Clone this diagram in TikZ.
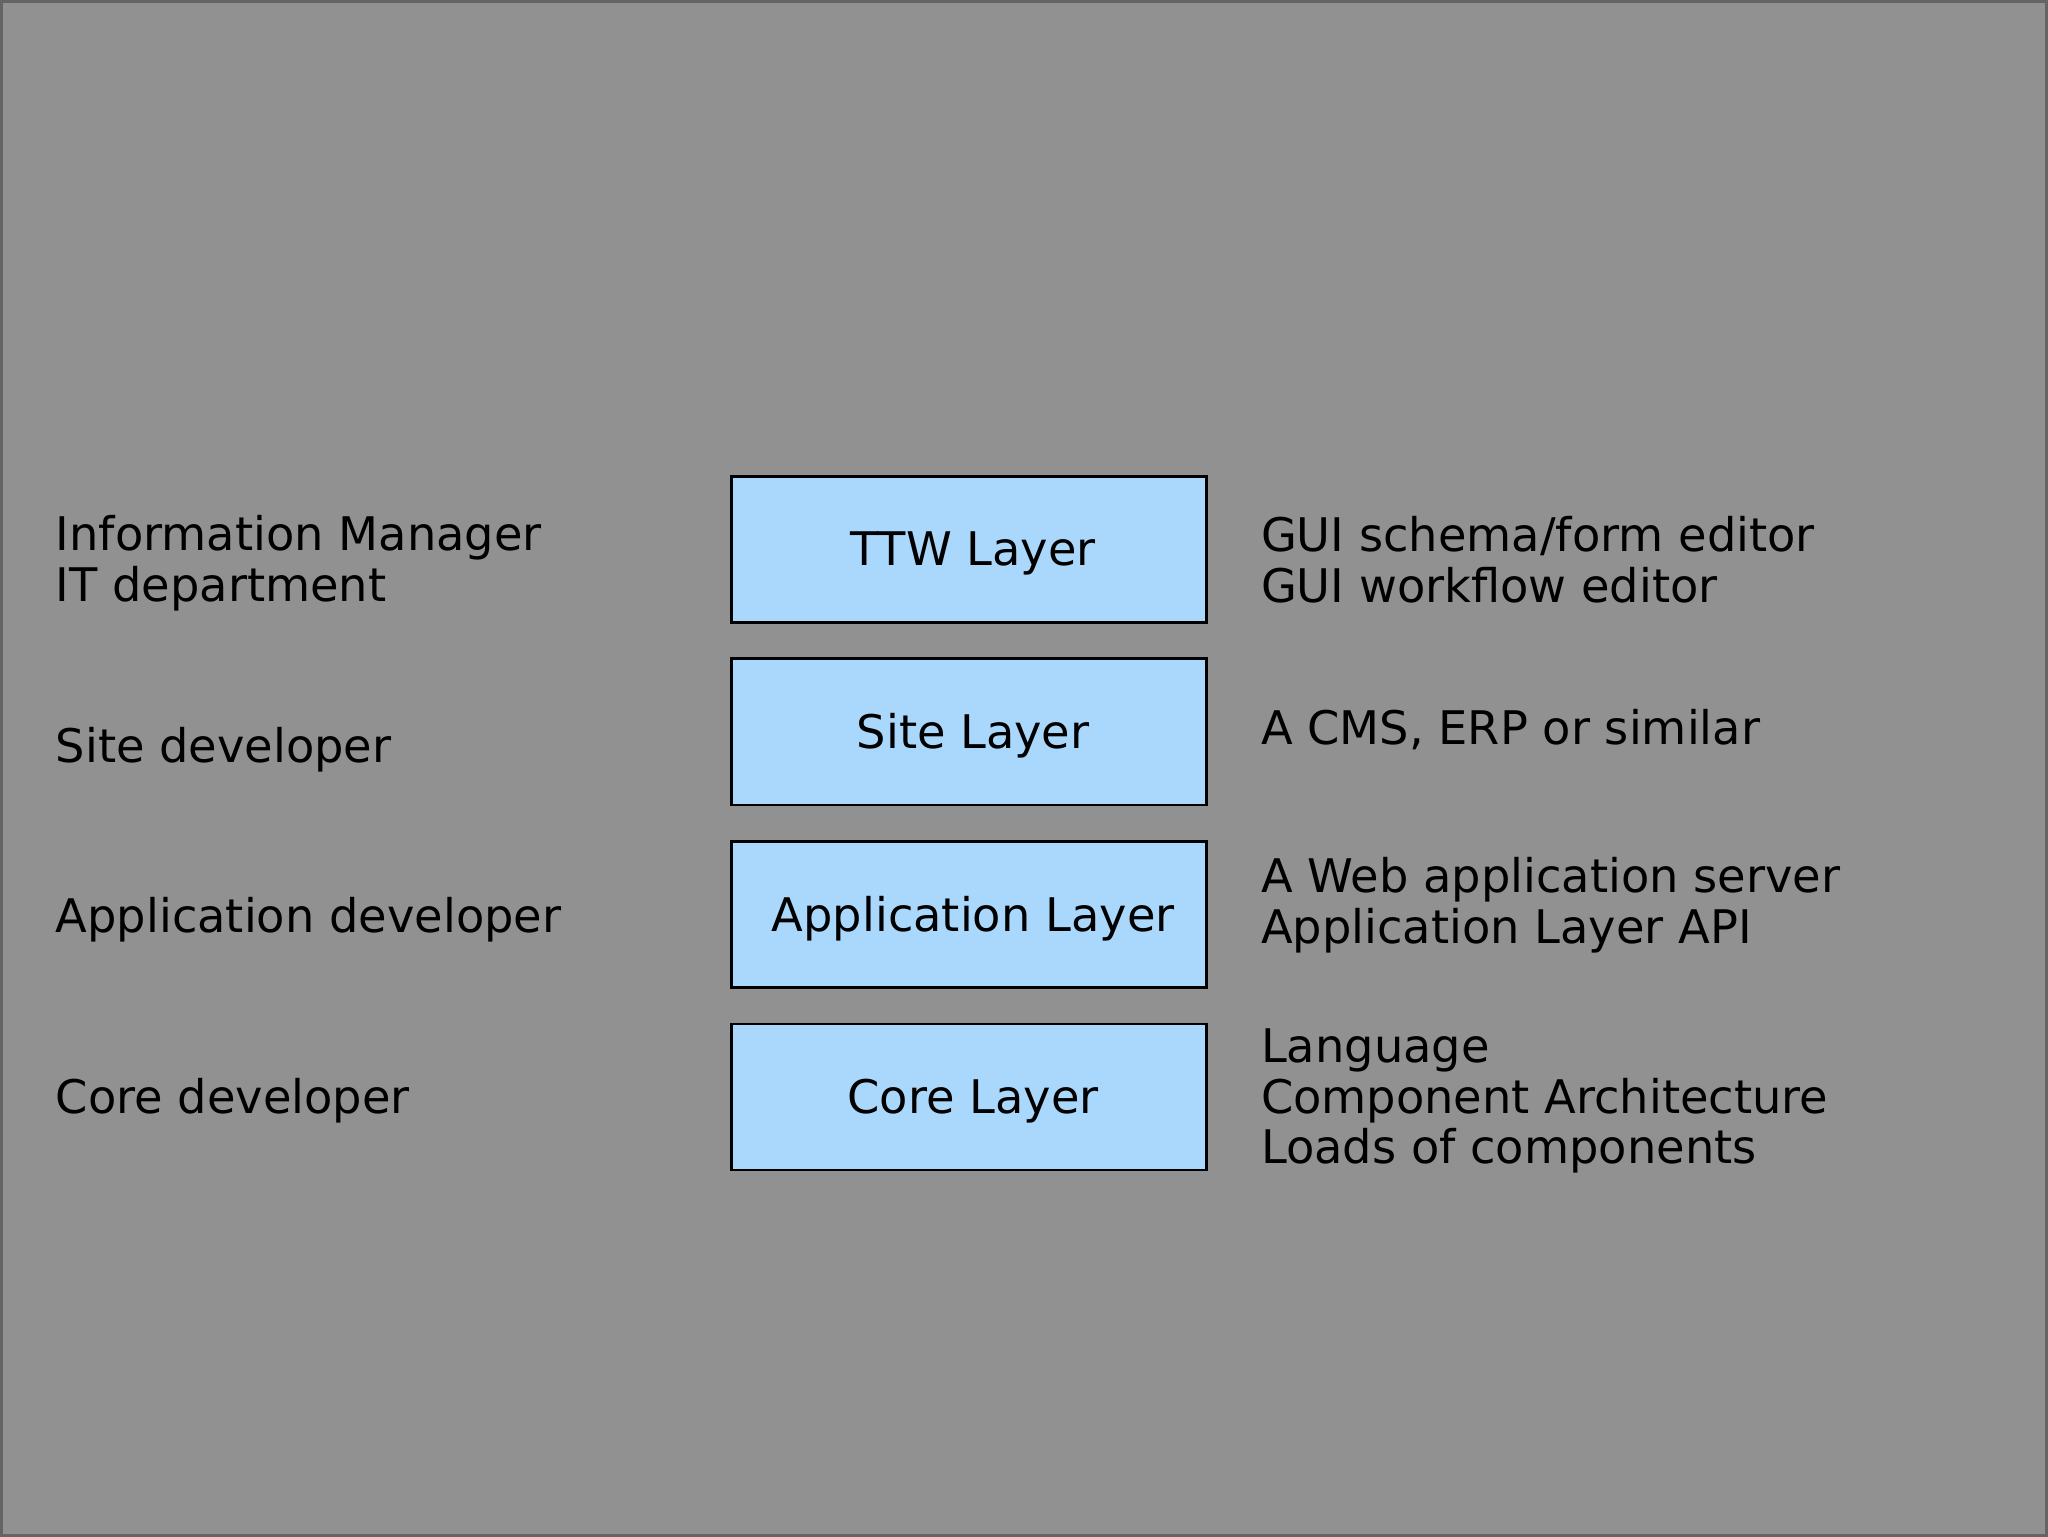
\documentclass[tikz,border=0pt]{standalone}
\usepackage{fontspec}
\setmainfont{DejaVu Sans}
\begin{document}
\begin{tikzpicture}[x=0.01cm,y=-0.01cm,
  box/.style={draw=black,line width=0.6pt,fill={rgb,255:red,170;green,216;blue,252}},
  lbl/.style={anchor=west,align=left,inner sep=0pt,font=\fontsize{10.1}{11.1}\selectfont}]
\fill[fill={rgb,255:red,145;green,145;blue,145},draw={rgb,255:red,100;green,100;blue,100},line width=0.6pt] (0,0) rectangle (1568,1176);
\useasboundingbox (0,0) rectangle (1568,1176);
\foreach \n/\t/\y in {ttw/TTW Layer/364, site/Site Layer/504, app/Application Layer/644, core/Core Layer/784}{
  \draw[box] (560,\y) rectangle (924,\y+112);
  \node[font=\fontsize{10.1}{11}\selectfont] (\n) at (745,\y+59) {\t};
}
\node[lbl] (l1) at (41,431) {Information Manager\\IT department};
\node[lbl] (l2) at (41,574) {Site developer};
\node[lbl] (l3) at (41,704) {Application developer};
\node[lbl] (l4) at (41,843) {Core developer};
\node[lbl] (r1) at (965,428) {GUI schema/form editor\\GUI workflow editor};
\node[lbl] (r2) at (965,558) {A CMS, ERP or similar};
\node[lbl] (r3) at (965,693) {A Web application server\\Application Layer API};
\node[lbl] (r4) at (965,843) {Language\\Component Architecture\\Loads of components};
\end{tikzpicture}
\end{document}
